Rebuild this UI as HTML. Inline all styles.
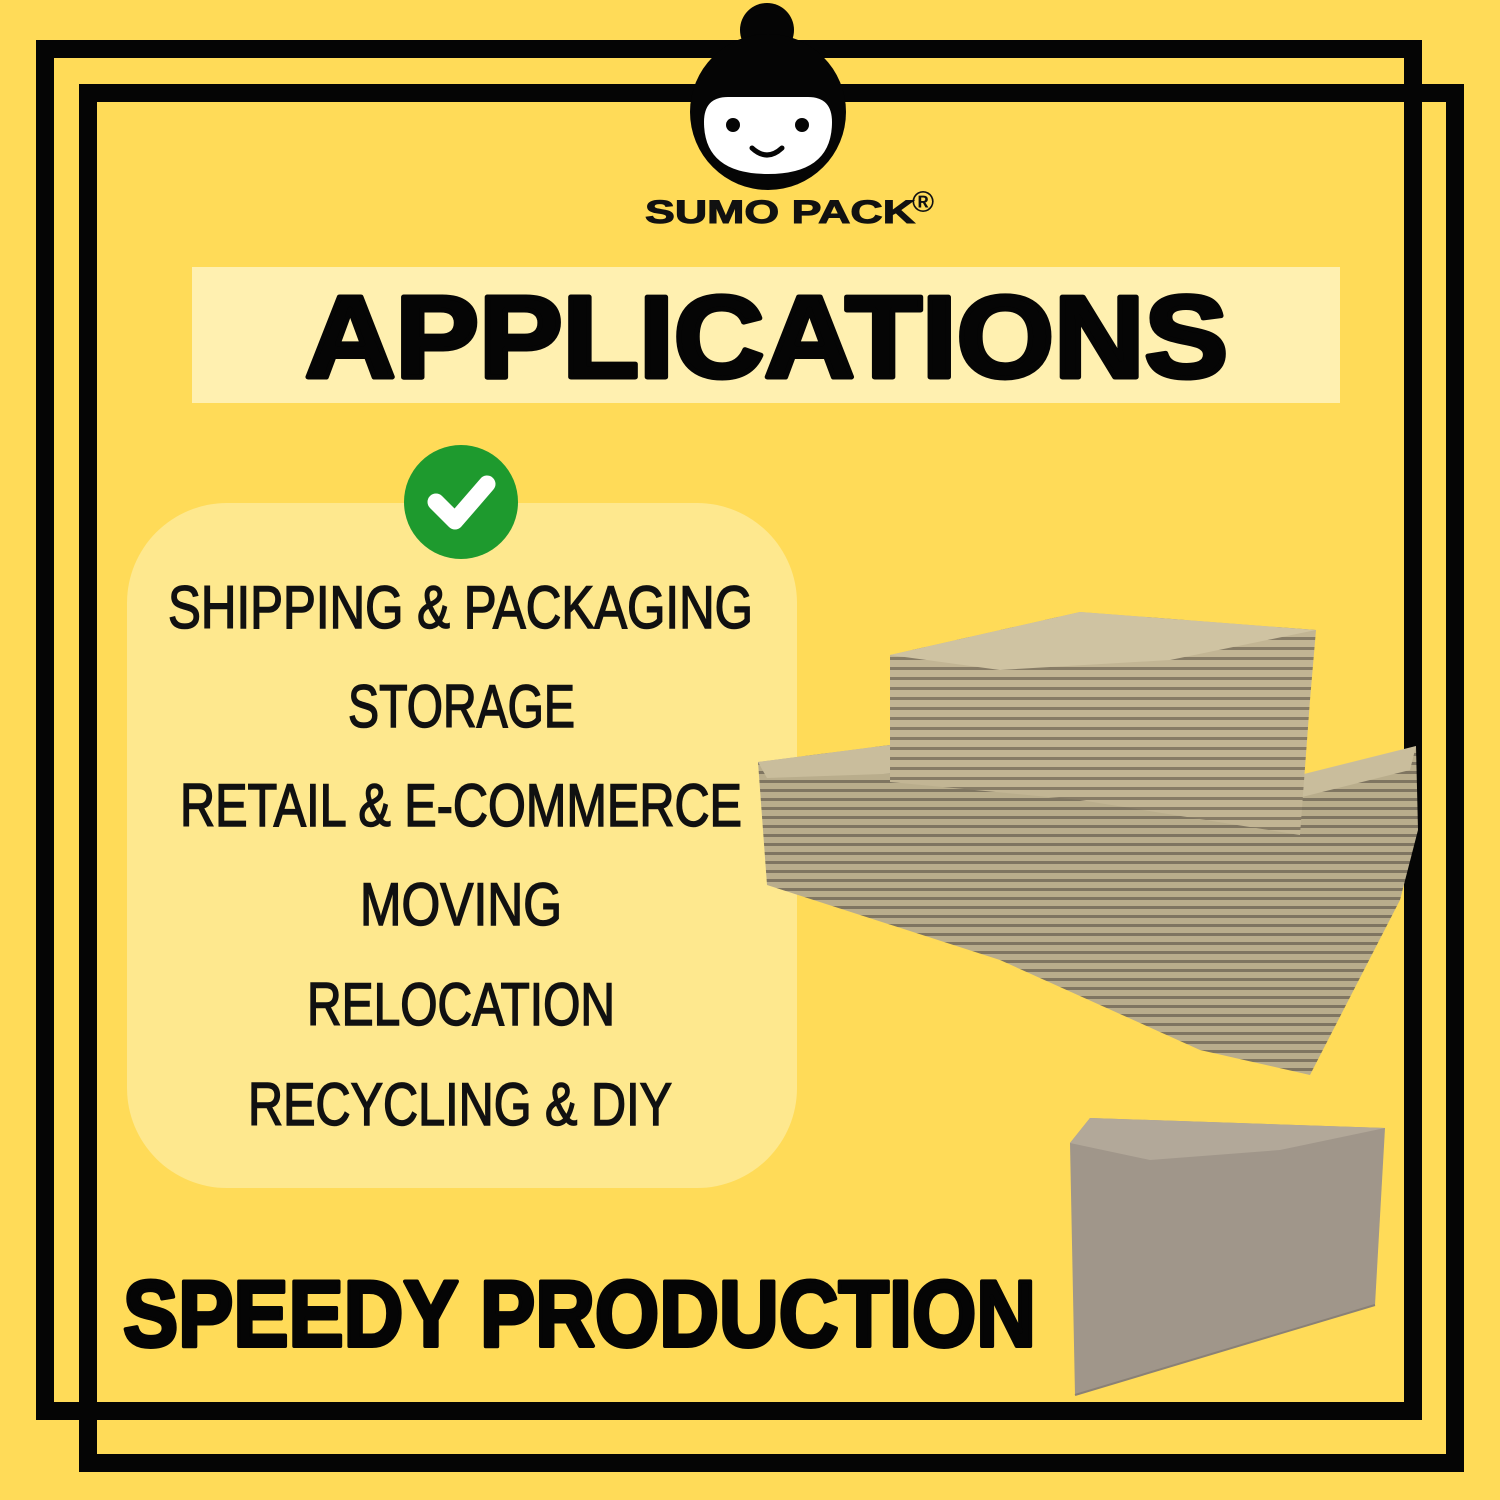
<!DOCTYPE html>
<html><head><meta charset="utf-8"><style>
html,body{margin:0;padding:0;background:#FFDB58;}
svg{display:block}
</style></head><body>
<svg width="1500" height="1500" viewBox="0 0 1500 1500" xmlns="http://www.w3.org/2000/svg">
<defs>
<pattern id="st" width="10" height="9" patternUnits="userSpaceOnUse">
<rect width="10" height="9" fill="#b9ad8c"/><rect y="6" width="10" height="3" fill="#7f7561"/>
</pattern>
<pattern id="st2" width="10" height="10" patternUnits="userSpaceOnUse">
<rect width="10" height="10" fill="#c2b594"/><rect y="7" width="10" height="3" fill="#877c66"/>
</pattern>
</defs>
<rect width="1500" height="1500" fill="#FFDB58"/>
<!-- frames -->
<rect x="45" y="49" width="1368" height="1362" fill="none" stroke="#050505" stroke-width="18"/>
<rect x="88" y="93" width="1367" height="1370" fill="none" stroke="#050505" stroke-width="18"/>
<!-- logo -->
<circle cx="767" cy="30" r="27" fill="#050505"/>
<circle cx="768" cy="112" r="78" fill="#050505"/>
<path d="M704,122 Q704,97 728,97 L808,97 Q832,97 832,122 Q832,174 768,174 Q704,174 704,122Z" fill="#fff"/>
<circle cx="733" cy="125" r="7" fill="#050505"/>
<circle cx="802" cy="125" r="7" fill="#050505"/>
<path d="M752,148 Q767,162 782,148" fill="none" stroke="#050505" stroke-width="5" stroke-linecap="round"/>
<text x="645" y="223" font-family="Liberation Sans, sans-serif" font-weight="bold" font-size="32" textLength="270" lengthAdjust="spacingAndGlyphs" fill="#111" stroke="#111" stroke-width="1">SUMO PACK</text>
<text x="912" y="212" font-family="Liberation Sans, sans-serif" font-weight="bold" font-size="30" fill="#111">®</text>
<!-- band -->
<rect x="192" y="267" width="1148" height="136" fill="#FFF0B0"/>
<text x="305" y="377" font-family="Liberation Sans, sans-serif" font-weight="bold" font-size="116" textLength="923" lengthAdjust="spacingAndGlyphs" fill="#050505" stroke="#050505" stroke-width="5" stroke-linejoin="round">APPLICATIONS</text>
<!-- panel -->
<rect x="127" y="503" width="670" height="685" rx="100" fill="#FEE88E"/>
<circle cx="461" cy="502" r="57" fill="#1E9A2E"/>
<path d="M436,502 L455,521 L487,484" fill="none" stroke="#fff" stroke-width="17" stroke-linecap="round" stroke-linejoin="round"/>
<g font-family="Liberation Sans, sans-serif" font-size="60" fill="#111" stroke="#111" stroke-width="1.5">
<text x="168" y="628" textLength="585" lengthAdjust="spacingAndGlyphs">SHIPPING &amp; PACKAGING</text>
<text x="348" y="727" textLength="227" lengthAdjust="spacingAndGlyphs">STORAGE</text>
<text x="180" y="826" textLength="562" lengthAdjust="spacingAndGlyphs">RETAIL &amp; E-COMMERCE</text>
<text x="360" y="925" textLength="202" lengthAdjust="spacingAndGlyphs">MOVING</text>
<text x="307" y="1025" textLength="308" lengthAdjust="spacingAndGlyphs">RELOCATION</text>
<text x="248" y="1125" textLength="424" lengthAdjust="spacingAndGlyphs">RECYCLING &amp; DIY</text>
</g>
<!-- stacks -->
<polygon points="758,762 890,745 1300,790 1416,746 1418,830 1400,900 1310,1075 1200,1050 1000,960 767,885" fill="url(#st)"/>
<polygon points="758,762 890,745 1000,770 767,778" fill="#c9bd9c"/>
<polygon points="1200,800 1416,746 1410,770 1230,815" fill="#c9bd9c"/>
<polygon points="890,655 1080,612 1316,630 1310,700 1300,835 1080,800 890,782" fill="url(#st2)"/>
<polygon points="890,655 1080,612 1316,630 1170,660 1000,670" fill="#cfc3a2"/>
<!-- box -->
<polygon points="1070,1143 1090,1118 1385,1128 1375,1305 1075,1395" fill="#a0968a"/>
<polygon points="1070,1143 1090,1118 1385,1128 1280,1150 1150,1160" fill="#b2a899"/>
<line x1="1075" y1="1395" x2="1375" y2="1305" stroke="#8a8176" stroke-width="2"/>
<!-- bottom text -->
<text x="123" y="1346" font-family="Liberation Sans, sans-serif" font-weight="bold" font-size="94" textLength="913" lengthAdjust="spacingAndGlyphs" fill="#050505" stroke="#050505" stroke-width="4" stroke-linejoin="round">SPEEDY PRODUCTION</text>
</svg>
</body></html>
